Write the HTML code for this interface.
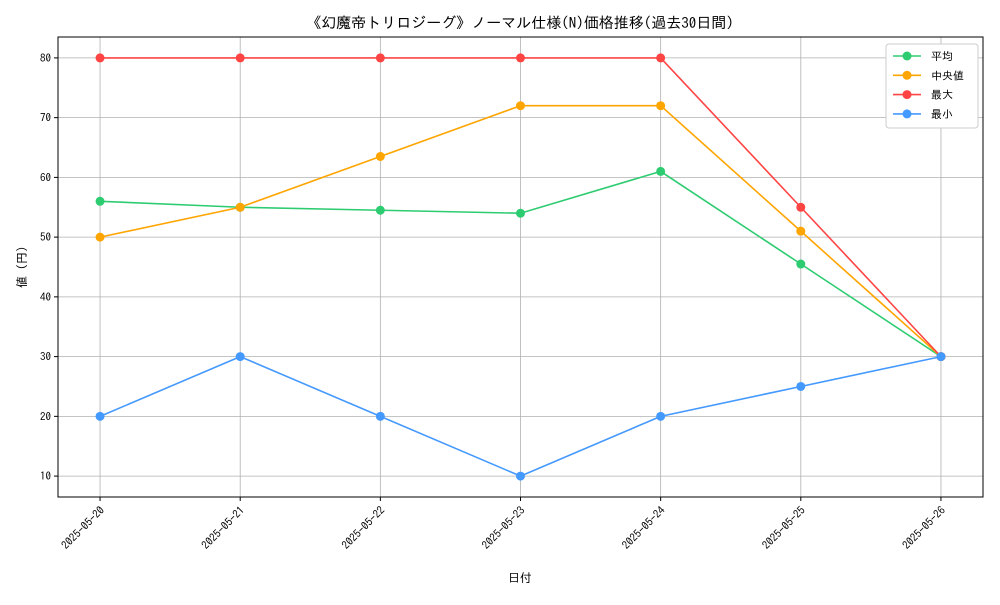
<!DOCTYPE html>
<html><head><meta charset="utf-8"><style>
body{margin:0;background:#fff}
text{font-family:"IPAGothic","Liberation Sans","Noto Sans CJK JP",sans-serif;fill:#000}
</style></head><body>
<svg id="chart" width="1000" height="600" xmlns="http://www.w3.org/2000/svg">
<rect width="1000" height="600" fill="#fff"/>
<text x="520" y="28" text-anchor="middle" font-size="15">《幻魔帝トリロジーグ》ノーマル仕様(N)価格推移(過去30日間)</text>
<g id="grid"></g>
<g id="axes"></g>
<g id="series"></g>
<text x="520" y="582" text-anchor="middle" font-size="12">日付</text>
<text transform="translate(26,267) rotate(-90)" text-anchor="middle" font-size="12">値 (円)</text>
<g id="legend"></g>
</svg>
<script>
const categories=["2025-05-20","2025-05-21","2025-05-22","2025-05-23","2025-05-24","2025-05-25","2025-05-26"];
const avgValues=[56,55,54.5,54,61,45.5,30];
const medianValues=[50,55,63.5,72,72,51,30];
const maxValues=[80,80,80,80,80,55,30];
const minValues=[20,30,20,10,20,25,30];
const yTicks=[10,20,30,40,50,60,70,80];
const seriesNames=["平均","中央値","最大","最小"];
const NS="http://www.w3.org/2000/svg";
const L=58,R=983,T=37,B=497;
const all=[].concat(avgValues,medianValues,maxValues,minValues);
const dmin=Math.min(...all),dmax=Math.max(...all),pad=(dmax-dmin)*0.05;
const y0=dmin-pad,y1=dmax+pad;
const xs=i=>L+(R-L)*(i+0.3)/(categories.length-1+0.6);
const ys=v=>B-(B-T)*(v-y0)/(y1-y0);
function mk(tag,attrs,parent){const e=document.createElementNS(NS,tag);for(const k in attrs)e.setAttribute(k,attrs[k]);parent.appendChild(e);return e;}
const grid=document.getElementById('grid'),axes=document.getElementById('axes'),ser=document.getElementById('series'),leg=document.getElementById('legend');
categories.forEach((c,i)=>{
 const g=mk('line',{x1:xs(i),x2:xs(i),y1:T,y2:B,stroke:'#b0b0b0','stroke-width':0.8},grid);
 
 
 mk('line',{x1:xs(i),x2:xs(i),y1:B,y2:B+4,stroke:'#000'},axes);
 const t=mk('text',{transform:`translate(${xs(i)+5},${B+14}) rotate(-45)`,'text-anchor':'end','font-size':11},axes);
 t.textContent=c;
 
 
});
yTicks.forEach(v=>{
 const g=mk('line',{x1:L,x2:R,y1:ys(v),y2:ys(v),stroke:'#b0b0b0','stroke-width':0.8},grid);
 
 
 mk('line',{x1:L-4,x2:L,y1:ys(v),y2:ys(v),stroke:'#000'},axes);
 const t=mk('text',{x:L-7,y:ys(v)+4,'text-anchor':'end','font-size':11},axes);
 t.textContent=v;
 
 
});
const frame=mk('rect',{x:L,y:T,width:R-L,height:B-T,fill:'none',stroke:'#000','stroke-width':1},axes);


const data=[avgValues,medianValues,maxValues,minValues];
const colors=['#2ecc71','#ffa500','#ff4444','#4499ff'];
const keys=['avg','median','max','min'];
data.forEach((arr,s)=>{
 const pl=mk('polyline',{points:arr.map((v,i)=>xs(i)+','+ys(v)).join(' '),fill:'none',stroke:colors[s],'stroke-width':1.6},ser);
 
 
 arr.forEach((v,i)=>{
  const c=mk('circle',{cx:xs(i),cy:ys(v),r:4.5,fill:colors[s]},ser);
  
  
 });
});
const box=mk('rect',{x:886,y:44,width:92,height:84,fill:'#fff',stroke:'#ccc',rx:3},leg);


seriesNames.forEach((n,s)=>{
 const y=56+s*19.3;
 const g=mk('g',{},leg);
 
 
 mk('line',{x1:893,x2:921,y1:y,y2:y,stroke:colors[s],'stroke-width':1.6},g);
 mk('circle',{cx:907,cy:y,r:4.5,fill:colors[s]},g);
 const t=mk('text',{x:931,y:y+4,'font-size':11},g);
 t.textContent=(s==1?' ':'')+n;
});
</script>
</body></html>
